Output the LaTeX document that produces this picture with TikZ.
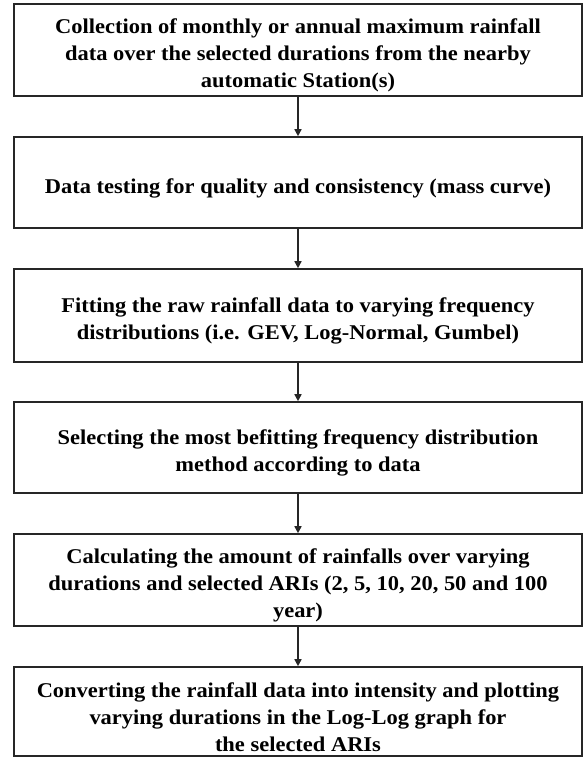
\documentclass[tikz,border=0pt]{standalone}
\usepackage{fontspec}
\setmainfont{Liberation Serif}
\newfontfamily\stepfont[FakeStretch=1.07]{Liberation Serif}
\usetikzlibrary{arrows.meta}
% strut on the first line lowers each text block slightly inside its box
\newcommand{\topstrut}{\rule{0pt}{26pt}}
\begin{document}
\begin{tikzpicture}[x=1pt,y=-1pt,
  stepbox/.style={draw=black!85, line width=1.6pt, minimum width=568pt,
    align=center, font=\stepfont\bfseries\fontsize{21}{27}\selectfont, inner sep=0pt},
  flow/.style={draw=black!85, line width=1.6pt, -{Triangle[length=7pt,width=7pt]}}]
\useasboundingbox (0,0) rectangle (585,757);
\node[stepbox, minimum height=92pt] (s1) at (298,50)
  {\topstrut Collection of monthly or annual maximum rainfall\\data over the selected durations from the nearby\\automatic Station(s)};
\node[stepbox, minimum height=91pt] (s2) at (298,182.5)
  {\topstrut Data testing for quality and consistency (mass curve)};
\node[stepbox, minimum height=93pt] (s3) at (298,315.5)
  {\topstrut Fitting the raw rainfall data to varying frequency\\distributions (i.e. GEV, Log-Normal, Gumbel)};
\node[stepbox, minimum height=91pt] (s4) at (298,447.5)
  {\topstrut Selecting the most befitting frequency distribution\\method according to data};
\node[stepbox, minimum height=92pt] (s5) at (298,580)
  {\topstrut Calculating the amount of rainfalls over varying\\durations and selected ARIs (2, 5, 10, 20, 50 and 100\\year)};
\node[stepbox, minimum height=89pt] (s6) at (298,711.5)
  {\topstrut Converting the rainfall data into intensity and plotting\\varying durations in the Log-Log graph for\\the selected ARIs};
\draw[flow] (s1) -- (s2);
\draw[flow] (s2) -- (s3);
\draw[flow] (s3) -- (s4);
\draw[flow] (s4) -- (s5);
\draw[flow] (s5) -- (s6);
\end{tikzpicture}
\end{document}
